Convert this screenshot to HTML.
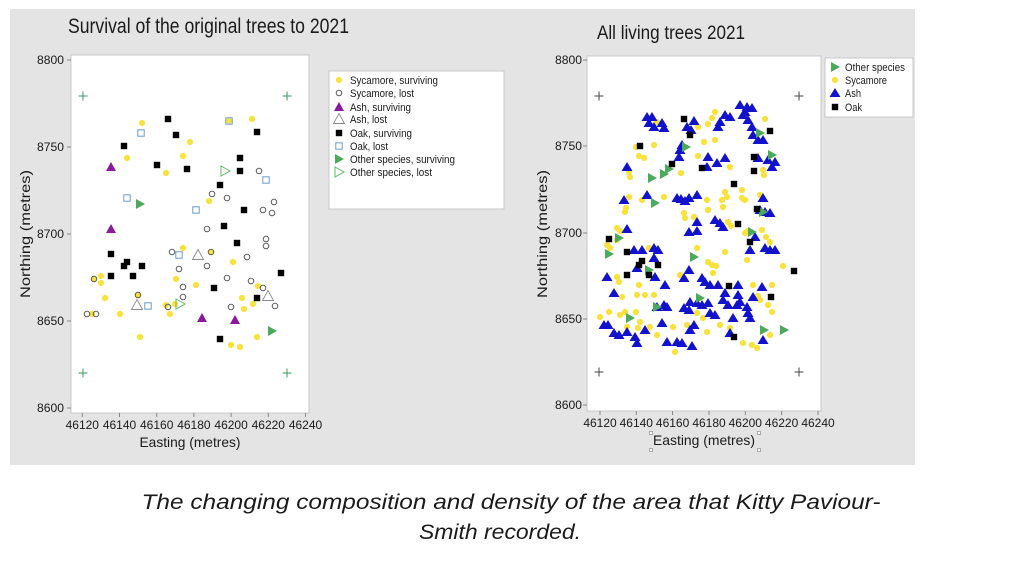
<!DOCTYPE html>
<html><head><meta charset="utf-8"><style>
html,body{margin:0;padding:0;background:#fff;}
svg{display:block;}
text{font-family:"Liberation Sans",Arial,sans-serif;fill:#1a1a1a;}
</style></head><body>
<svg width="1024" height="576" viewBox="0 0 1024 576" xmlns="http://www.w3.org/2000/svg">
<defs>
<circle id="yc" r="3.1" fill="#f8e23e"/>
<circle id="oc" r="2.8" fill="none" stroke="#4a4a4a" stroke-width="0.9"/>
<path id="pt" d="M0,-5 L5,4 L-5,4Z" fill="#8a1a9c"/>
<path id="at" d="M0,-5.5 L5.5,4.5 L-5.5,4.5Z" fill="none" stroke="#8a8a8a" stroke-width="0.9"/>
<rect id="bs" x="-3.2" y="-3.2" width="6.4" height="6.4" fill="#000"/>
<rect id="os" x="-3.2" y="-3.2" width="6.4" height="6.4" fill="none" stroke="#6d9cc9" stroke-width="1"/>
<path id="gt" d="M-4,-5 L5,0 L-4,5Z" fill="#4caa5c"/>
<path id="ot" d="M-4,-5 L5,0 L-4,5Z" fill="none" stroke="#5cb86a" stroke-width="1"/>
<path id="bt" d="M0,-5 L5.5,4 L-5.5,4Z" fill="#1212cc"/>
<path id="gc" d="M-4.5,0H4.5M0,-4.5V4.5" stroke="#3a9a5a" stroke-width="1" fill="none"/>
<path id="kc" d="M-4.5,0H4.5M0,-4.5V4.5" stroke="#444" stroke-width="1" fill="none"/>
</defs>

<rect x="10" y="9" width="905" height="456" fill="#e4e4e4"/>

<!-- LEFT CHART -->
<text x="68" y="33" font-size="21" textLength="281" lengthAdjust="spacingAndGlyphs">Survival of the original trees to 2021</text>
<rect x="71" y="55" width="238" height="358" fill="#fff" stroke="#c8c8c8" stroke-width="1"/>
<g stroke="#888" stroke-width="1">
<line x1="67" y1="60" x2="71" y2="60"/><line x1="67" y1="147" x2="71" y2="147"/><line x1="67" y1="234" x2="71" y2="234"/><line x1="67" y1="321" x2="71" y2="321"/><line x1="67" y1="408" x2="71" y2="408"/>
<line x1="82.3" y1="413" x2="82.3" y2="417"/><line x1="119.5" y1="413" x2="119.5" y2="417"/><line x1="156.7" y1="413" x2="156.7" y2="417"/><line x1="193.9" y1="413" x2="193.9" y2="417"/><line x1="231.1" y1="413" x2="231.1" y2="417"/><line x1="268.3" y1="413" x2="268.3" y2="417"/><line x1="305.5" y1="413" x2="305.5" y2="417"/>
</g>
<g font-size="12" text-anchor="end">
<text x="64" y="64" textLength="27" lengthAdjust="spacingAndGlyphs">8800</text>
<text x="64" y="151" textLength="27" lengthAdjust="spacingAndGlyphs">8750</text>
<text x="64" y="238" textLength="27" lengthAdjust="spacingAndGlyphs">8700</text>
<text x="64" y="325" textLength="27" lengthAdjust="spacingAndGlyphs">8650</text>
<text x="64" y="412" textLength="27" lengthAdjust="spacingAndGlyphs">8600</text>
</g>
<g font-size="12" text-anchor="middle">
<text x="82.3" y="429">46120</text><text x="119.5" y="429">46140</text><text x="156.7" y="429">46160</text><text x="193.9" y="429">46180</text><text x="231.1" y="429">46200</text><text x="268.3" y="429">46220</text><text x="305.5" y="429">46240</text>
</g>
<text x="190" y="447" font-size="14" text-anchor="middle" textLength="101" lengthAdjust="spacingAndGlyphs">Easting (metres)</text>
<text transform="translate(30,234) rotate(-90)" font-size="14" text-anchor="middle" textLength="128" lengthAdjust="spacingAndGlyphs">Northing (metres)</text>

<use href="#gc" x="83" y="96"/><use href="#gc" x="287" y="96"/><use href="#gc" x="83" y="373"/><use href="#gc" x="287" y="373"/>
<!-- yellow -->
<use href="#yc" x="142" y="123"/><use href="#yc" x="127" y="158"/><use href="#yc" x="166" y="173"/><use href="#yc" x="190" y="142"/><use href="#yc" x="183" y="156"/><use href="#yc" x="229" y="121"/><use href="#yc" x="252" y="119"/><use href="#yc" x="209" y="201"/><use href="#yc" x="183" y="248"/><use href="#yc" x="211" y="252"/><use href="#yc" x="233" y="262"/><use href="#yc" x="101" y="276"/><use href="#yc" x="101" y="283"/><use href="#yc" x="94" y="279"/><use href="#yc" x="176" y="279"/><use href="#yc" x="196" y="285"/><use href="#yc" x="258" y="286"/><use href="#yc" x="105" y="298"/><use href="#yc" x="138" y="295"/><use href="#yc" x="242" y="298"/><use href="#yc" x="175" y="304"/><use href="#yc" x="166" y="305"/><use href="#yc" x="253" y="304"/><use href="#yc" x="244" y="309"/><use href="#yc" x="92" y="314"/><use href="#yc" x="120" y="314"/><use href="#yc" x="170" y="314"/><use href="#yc" x="140" y="337"/><use href="#yc" x="257" y="337"/><use href="#yc" x="231" y="345"/><use href="#yc" x="240" y="347"/>
<!-- open circles -->
<use href="#oc" x="259" y="171"/><use href="#oc" x="212" y="194"/><use href="#oc" x="227" y="198"/><use href="#oc" x="263" y="210"/><use href="#oc" x="272" y="213"/><use href="#oc" x="274" y="202"/><use href="#oc" x="207" y="229"/><use href="#oc" x="266" y="239"/><use href="#oc" x="266" y="246"/><use href="#oc" x="172" y="252"/><use href="#oc" x="211" y="252"/><use href="#oc" x="247" y="257"/><use href="#oc" x="207" y="266"/><use href="#oc" x="179" y="269"/><use href="#oc" x="94" y="279"/><use href="#oc" x="227" y="278"/><use href="#oc" x="251" y="281"/><use href="#oc" x="183" y="287"/><use href="#oc" x="263" y="288"/><use href="#oc" x="138" y="295"/><use href="#oc" x="183" y="297"/><use href="#oc" x="168" y="307"/><use href="#oc" x="275" y="306"/><use href="#oc" x="231" y="307"/><use href="#oc" x="87" y="314"/><use href="#oc" x="96" y="314"/>
<!-- purple / ash lost -->
<use href="#pt" x="111" y="167"/><use href="#pt" x="111" y="229"/><use href="#pt" x="202" y="318"/><use href="#pt" x="235" y="320"/>
<use href="#at" x="198" y="255"/><use href="#at" x="268" y="296"/><use href="#at" x="137" y="305"/>
<!-- black squares -->
<use href="#bs" x="168" y="119"/><use href="#bs" x="124" y="146"/><use href="#bs" x="157" y="165"/><use href="#bs" x="176" y="135"/><use href="#bs" x="187" y="169"/><use href="#bs" x="257" y="132"/><use href="#bs" x="240" y="158"/><use href="#bs" x="240" y="171"/><use href="#bs" x="220" y="185"/><use href="#bs" x="244" y="210"/><use href="#bs" x="224" y="226"/><use href="#bs" x="237" y="243"/><use href="#bs" x="111" y="254"/><use href="#bs" x="127" y="262"/><use href="#bs" x="124" y="266"/><use href="#bs" x="142" y="266"/><use href="#bs" x="281" y="273"/><use href="#bs" x="111" y="276"/><use href="#bs" x="133" y="276"/><use href="#bs" x="214" y="288"/><use href="#bs" x="257" y="298"/><use href="#bs" x="220" y="339"/>
<!-- oak lost -->
<use href="#os" x="141" y="133"/><use href="#os" x="266" y="180"/><use href="#os" x="127" y="198"/><use href="#os" x="196" y="210"/><use href="#os" x="179" y="255"/><use href="#os" x="148" y="306"/><use href="#os" x="229" y="121"/>
<!-- other -->
<use href="#gt" x="140" y="204"/><use href="#gt" x="272" y="331"/>
<use href="#ot" x="225" y="171"/><use href="#ot" x="180" y="304"/>

<!-- left legend -->
<rect x="329" y="71" width="175" height="138" fill="#fff" stroke="#c8c8c8" stroke-width="1"/>
<use href="#yc" x="339" y="80"/><use href="#oc" x="339" y="93"/><use href="#pt" x="339" y="107"/><use href="#at" x="339" y="119"/><use href="#bs" x="339" y="133"/><use href="#os" x="339" y="146"/><use href="#gt" x="339" y="159"/><use href="#ot" x="339" y="172"/>
<g font-size="11">
<text x="350" y="84" textLength="88" lengthAdjust="spacingAndGlyphs">Sycamore, surviving</text>
<text x="350" y="97" textLength="64" lengthAdjust="spacingAndGlyphs">Sycamore, lost</text>
<text x="350" y="111" textLength="61" lengthAdjust="spacingAndGlyphs">Ash, surviving</text>
<text x="350" y="123" textLength="37" lengthAdjust="spacingAndGlyphs">Ash, lost</text>
<text x="350" y="137" textLength="62" lengthAdjust="spacingAndGlyphs">Oak, surviving</text>
<text x="350" y="150" textLength="38" lengthAdjust="spacingAndGlyphs">Oak, lost</text>
<text x="350" y="163" textLength="105" lengthAdjust="spacingAndGlyphs">Other species, surviving</text>
<text x="350" y="176" textLength="82" lengthAdjust="spacingAndGlyphs">Other species, lost</text>
</g>

<!-- RIGHT CHART -->
<text x="597" y="39" font-size="19" textLength="148" lengthAdjust="spacingAndGlyphs">All living trees 2021</text>
<rect x="587" y="56" width="234" height="355" fill="#fff" stroke="#c8c8c8" stroke-width="1"/>
<g stroke="#888" stroke-width="1">
<line x1="583" y1="60" x2="587" y2="60"/><line x1="583" y1="146" x2="587" y2="146"/><line x1="583" y1="233" x2="587" y2="233"/><line x1="583" y1="319" x2="587" y2="319"/><line x1="583" y1="405" x2="587" y2="405"/>
<line x1="600" y1="411" x2="600" y2="415"/><line x1="636.3" y1="411" x2="636.3" y2="415"/><line x1="672.6" y1="411" x2="672.6" y2="415"/><line x1="709" y1="411" x2="709" y2="415"/><line x1="745.3" y1="411" x2="745.3" y2="415"/><line x1="781.6" y1="411" x2="781.6" y2="415"/><line x1="818" y1="411" x2="818" y2="415"/>
</g>
<g font-size="12" text-anchor="end">
<text x="582" y="64" textLength="27" lengthAdjust="spacingAndGlyphs">8800</text>
<text x="582" y="150" textLength="27" lengthAdjust="spacingAndGlyphs">8750</text>
<text x="582" y="237" textLength="27" lengthAdjust="spacingAndGlyphs">8700</text>
<text x="582" y="323" textLength="27" lengthAdjust="spacingAndGlyphs">8650</text>
<text x="582" y="409" textLength="27" lengthAdjust="spacingAndGlyphs">8600</text>
</g>
<g font-size="12" text-anchor="middle">
<text x="600" y="427">46120</text><text x="636.3" y="427">46140</text><text x="672.6" y="427">46160</text><text x="709" y="427">46180</text><text x="745.3" y="427">46200</text><text x="781.6" y="427">46220</text><text x="818" y="427">46240</text>
</g>
<text x="704" y="445" font-size="14" text-anchor="middle" textLength="102" lengthAdjust="spacingAndGlyphs">Easting (metres)</text>
<g fill="#fff" stroke="#999" stroke-width="0.8">
<rect x="649.5" y="431.5" width="3" height="3"/><rect x="757.5" y="431.5" width="3" height="3"/><rect x="649.5" y="448.5" width="3" height="3"/><rect x="757.5" y="448.5" width="3" height="3"/>
</g>
<text transform="translate(547,234) rotate(-90)" font-size="14" text-anchor="middle" textLength="128" lengthAdjust="spacingAndGlyphs">Northing (metres)</text>

<use href="#kc" x="599" y="96"/><use href="#kc" x="799" y="96"/><use href="#kc" x="599" y="372"/><use href="#kc" x="799" y="372"/>

<!-- yellow -->
<g>
<use href="#yc" x="657" y="122"/><use href="#yc" x="698" y="127"/><use href="#yc" x="715" y="112"/><use href="#yc" x="712" y="118"/><use href="#yc" x="708" y="124"/><use href="#yc" x="765" y="119"/>
<use href="#yc" x="636" y="147"/><use href="#yc" x="654" y="145"/><use href="#yc" x="639" y="156"/><use href="#yc" x="644" y="158"/><use href="#yc" x="698" y="156"/><use href="#yc" x="704" y="142"/><use href="#yc" x="715" y="140"/><use href="#yc" x="681" y="173"/><use href="#yc" x="630" y="177"/><use href="#yc" x="629" y="172"/><use href="#yc" x="730" y="167"/><use href="#yc" x="763" y="170"/><use href="#yc" x="764" y="175"/>
<use href="#yc" x="629" y="197"/><use href="#yc" x="626" y="208"/><use href="#yc" x="625" y="212"/><use href="#yc" x="642" y="200"/><use href="#yc" x="664" y="197"/><use href="#yc" x="684" y="213"/><use href="#yc" x="685" y="218"/><use href="#yc" x="694" y="217"/><use href="#yc" x="707" y="200"/><use href="#yc" x="708" y="210"/><use href="#yc" x="722" y="200"/><use href="#yc" x="723" y="207"/><use href="#yc" x="725" y="192"/><use href="#yc" x="727" y="197"/><use href="#yc" x="742" y="190"/><use href="#yc" x="742" y="198"/><use href="#yc" x="745" y="200"/><use href="#yc" x="760" y="195"/><use href="#yc" x="728" y="222"/><use href="#yc" x="731" y="226"/>
<use href="#yc" x="617" y="228"/><use href="#yc" x="620" y="231"/><use href="#yc" x="745" y="233"/><use href="#yc" x="748" y="231"/><use href="#yc" x="762" y="230"/><use href="#yc" x="766" y="237"/><use href="#yc" x="770" y="242"/><use href="#yc" x="617" y="240"/><use href="#yc" x="610" y="248"/><use href="#yc" x="607" y="245"/><use href="#yc" x="649" y="248"/><use href="#yc" x="697" y="248"/><use href="#yc" x="725" y="252"/><use href="#yc" x="747" y="260"/><use href="#yc" x="783" y="266"/>
<use href="#yc" x="712" y="265"/><use href="#yc" x="716" y="266"/><use href="#yc" x="713" y="273"/><use href="#yc" x="708" y="262"/>
<use href="#yc" x="617" y="277"/><use href="#yc" x="619" y="282"/><use href="#yc" x="639" y="285"/><use href="#yc" x="637" y="295"/><use href="#yc" x="645" y="295"/><use href="#yc" x="654" y="295"/><use href="#yc" x="622" y="297"/><use href="#yc" x="680" y="275"/>
<use href="#yc" x="600" y="317"/><use href="#yc" x="609" y="312"/><use href="#yc" x="620" y="315"/><use href="#yc" x="625" y="312"/><use href="#yc" x="636" y="312"/>
<use href="#yc" x="650" y="327"/><use href="#yc" x="657" y="335"/><use href="#yc" x="640" y="322"/><use href="#yc" x="627" y="327"/><use href="#yc" x="638" y="328"/>
<use href="#yc" x="675" y="352"/><use href="#yc" x="687" y="325"/><use href="#yc" x="697" y="313"/><use href="#yc" x="673" y="327"/><use href="#yc" x="703" y="318"/><use href="#yc" x="720" y="325"/><use href="#yc" x="730" y="328"/><use href="#yc" x="707" y="332"/><use href="#yc" x="743" y="343"/><use href="#yc" x="752" y="345"/><use href="#yc" x="757" y="348"/><use href="#yc" x="770" y="335"/><use href="#yc" x="753" y="285"/><use href="#yc" x="772" y="285"/><use href="#yc" x="768" y="305"/><use href="#yc" x="772" y="312"/><use href="#yc" x="760" y="300"/><use href="#yc" x="758" y="296"/>
</g>
<!-- blue triangles -->
<g>
<use href="#bt" x="647" y="117"/><use href="#bt" x="652" y="117"/><use href="#bt" x="654" y="127"/><use href="#bt" x="662" y="123"/><use href="#bt" x="664" y="128"/><use href="#bt" x="649" y="123"/>
<use href="#bt" x="694" y="121"/><use href="#bt" x="687" y="127"/><use href="#bt" x="691" y="130"/>
<use href="#bt" x="720" y="122"/><use href="#bt" x="725" y="115"/><use href="#bt" x="730" y="117"/><use href="#bt" x="718" y="127"/>
<use href="#bt" x="740" y="105"/><use href="#bt" x="747" y="107"/><use href="#bt" x="752" y="108"/><use href="#bt" x="743" y="115"/><use href="#bt" x="748" y="120"/><use href="#bt" x="752" y="127"/><use href="#bt" x="745" y="112"/>
<use href="#bt" x="753" y="135"/><use href="#bt" x="758" y="140"/><use href="#bt" x="763" y="140"/>
<use href="#bt" x="682" y="145"/><use href="#bt" x="680" y="150"/><use href="#bt" x="679" y="157"/>
<use href="#bt" x="708" y="157"/><use href="#bt" x="707" y="167"/><use href="#bt" x="717" y="163"/><use href="#bt" x="725" y="158"/>
<use href="#bt" x="627" y="167"/>
<use href="#bt" x="758" y="158"/><use href="#bt" x="768" y="160"/><use href="#bt" x="775" y="162"/><use href="#bt" x="772" y="167"/>
<use href="#bt" x="624" y="200"/><use href="#bt" x="647" y="195"/><use href="#bt" x="677" y="198"/><use href="#bt" x="685" y="201"/><use href="#bt" x="689" y="198"/><use href="#bt" x="697" y="195"/><use href="#bt" x="681" y="199"/>
<use href="#bt" x="763" y="198"/><use href="#bt" x="765" y="212"/><use href="#bt" x="770" y="213"/><use href="#bt" x="760" y="210"/>
<use href="#bt" x="715" y="220"/><use href="#bt" x="720" y="223"/><use href="#bt" x="723" y="227"/><use href="#bt" x="697" y="222"/><use href="#bt" x="689" y="232"/><use href="#bt" x="697" y="231"/>
<use href="#bt" x="627" y="229"/><use href="#bt" x="755" y="237"/>
<use href="#bt" x="634" y="250"/><use href="#bt" x="642" y="250"/><use href="#bt" x="654" y="248"/><use href="#bt" x="658" y="250"/><use href="#bt" x="654" y="258"/><use href="#bt" x="637" y="268"/><use href="#bt" x="655" y="277"/><use href="#bt" x="607" y="277"/><use href="#bt" x="614" y="293"/><use href="#bt" x="665" y="285"/><use href="#bt" x="657" y="307"/><use href="#bt" x="664" y="305"/><use href="#bt" x="667" y="307"/><use href="#bt" x="684" y="278"/><use href="#bt" x="689" y="270"/>
<use href="#bt" x="604" y="325"/><use href="#bt" x="608" y="325"/><use href="#bt" x="614" y="333"/><use href="#bt" x="619" y="335"/><use href="#bt" x="627" y="332"/><use href="#bt" x="635" y="337"/><use href="#bt" x="637" y="343"/><use href="#bt" x="645" y="330"/><use href="#bt" x="662" y="323"/><use href="#bt" x="667" y="342"/><use href="#bt" x="677" y="342"/><use href="#bt" x="682" y="343"/><use href="#bt" x="692" y="346"/><use href="#bt" x="684" y="308"/><use href="#bt" x="689" y="310"/><use href="#bt" x="690" y="302"/><use href="#bt" x="697" y="303"/><use href="#bt" x="694" y="325"/><use href="#bt" x="690" y="330"/>
<use href="#bt" x="702" y="278"/><use href="#bt" x="705" y="282"/><use href="#bt" x="710" y="285"/><use href="#bt" x="718" y="285"/><use href="#bt" x="738" y="285"/><use href="#bt" x="725" y="293"/><use href="#bt" x="723" y="300"/><use href="#bt" x="728" y="305"/><use href="#bt" x="738" y="295"/><use href="#bt" x="740" y="302"/><use href="#bt" x="737" y="305"/><use href="#bt" x="708" y="303"/><use href="#bt" x="702" y="305"/><use href="#bt" x="753" y="297"/><use href="#bt" x="762" y="287"/><use href="#bt" x="747" y="307"/><use href="#bt" x="748" y="313"/><use href="#bt" x="750" y="318"/><use href="#bt" x="733" y="318"/><use href="#bt" x="710" y="313"/><use href="#bt" x="715" y="315"/><use href="#bt" x="730" y="333"/><use href="#bt" x="763" y="340"/>
<use href="#bt" x="750" y="250"/><use href="#bt" x="765" y="248"/><use href="#bt" x="775" y="250"/><use href="#bt" x="770" y="250"/>
</g>
<!-- green -->
<g>
<use href="#gt" x="686" y="147"/><use href="#gt" x="652" y="178"/><use href="#gt" x="664" y="174"/><use href="#gt" x="669" y="169"/><use href="#gt" x="655" y="203"/><use href="#gt" x="760" y="133"/><use href="#gt" x="772" y="155"/><use href="#gt" x="763" y="212"/><use href="#gt" x="752" y="232"/><use href="#gt" x="619" y="238"/><use href="#gt" x="609" y="254"/><use href="#gt" x="694" y="257"/><use href="#gt" x="649" y="270"/><use href="#gt" x="630" y="318"/><use href="#gt" x="700" y="298"/><use href="#gt" x="764" y="330"/><use href="#gt" x="784" y="330"/><use href="#gt" x="657" y="307"/>
</g>
<!-- black -->
<g>
<use href="#bs" x="684" y="119"/><use href="#bs" x="690" y="135"/><use href="#bs" x="640" y="146"/><use href="#bs" x="672" y="164"/><use href="#bs" x="702" y="168"/><use href="#bs" x="770" y="131"/><use href="#bs" x="754" y="157"/><use href="#bs" x="754" y="171"/><use href="#bs" x="734" y="184"/><use href="#bs" x="757" y="209"/><use href="#bs" x="738" y="224"/><use href="#bs" x="609" y="239"/><use href="#bs" x="750" y="242"/><use href="#bs" x="627" y="252"/><use href="#bs" x="642" y="261"/><use href="#bs" x="639" y="265"/><use href="#bs" x="658" y="265"/><use href="#bs" x="649" y="275"/><use href="#bs" x="627" y="275"/><use href="#bs" x="729" y="286"/><use href="#bs" x="771" y="297"/><use href="#bs" x="734" y="337"/><use href="#bs" x="794" y="271"/>
</g>

<!-- right legend -->
<rect x="825" y="58" width="88" height="59" fill="#fff" stroke="#c8c8c8" stroke-width="1"/>
<use href="#gt" x="835" y="67"/><use href="#yc" x="835" y="80"/><use href="#bt" x="835" y="93"/><use href="#bs" x="835" y="107"/>
<g font-size="11">
<text x="845" y="71" textLength="60" lengthAdjust="spacingAndGlyphs">Other species</text>
<text x="845" y="84" textLength="42" lengthAdjust="spacingAndGlyphs">Sycamore</text>
<text x="845" y="97" textLength="16" lengthAdjust="spacingAndGlyphs">Ash</text>
<text x="845" y="111" textLength="17" lengthAdjust="spacingAndGlyphs">Oak</text>
</g>

<!-- caption -->
<g font-size="21" font-style="italic" text-anchor="middle">
<text x="511" y="509" textLength="739" lengthAdjust="spacingAndGlyphs">The changing composition and density of the area that Kitty Paviour-</text>
<text x="500" y="539" textLength="162" lengthAdjust="spacingAndGlyphs">Smith recorded.</text>
</g>
</svg>
</body></html>
